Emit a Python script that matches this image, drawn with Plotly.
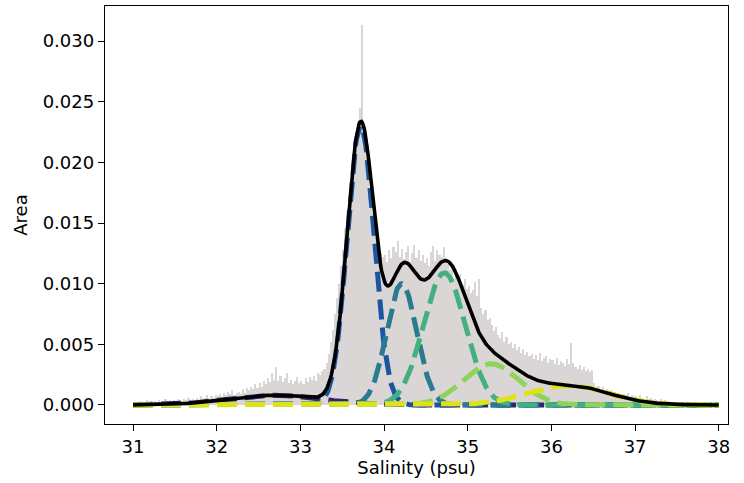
import numpy as np
import plotly.graph_objects as go

# histogram of salinity (area per bin), bins of 0.025 psu starting at 31.0
bin_start = 31.0
bin_width = 0.025
hist_e4 = [  # values x 1e-4
    0, 2, 1, 3, 0, 2, 4, 1, 3, 2,
    3, 1, 4, 2, 3, 5, 2, 4, 3, 4,
    3, 5, 4, 2, 5, 4, 6, 3, 5, 4,
    6, 4, 7, 5, 6, 8, 5, 7, 6, 8,
    7, 9, 6, 10, 8, 11, 9, 12, 8, 10,
    11, 9, 13, 10, 14, 12, 15, 13, 17, 14,
    18, 15, 20, 17, 22, 19, 26, 21, 31, 20,
    24, 19, 22, 26, 18, 21, 17, 20, 23, 18,
    20, 17, 22, 19, 23, 21, 24, 20, 26, 25,
    28, 30, 35, 42, 52, 62, 75, 88, 100, 115,
    128, 145, 160, 175, 190, 205, 218, 230, 245, 313,
    225, 210, 190, 172, 158, 145, 138, 130, 125, 122,
    124, 118, 128, 121, 130, 126, 135, 122, 129, 120,
    126, 131, 118, 125, 132, 121, 128, 119, 124, 117,
    121, 115, 126, 131, 119, 128, 124, 122, 130, 118,
    116, 111, 114, 105, 112, 102, 108, 99, 104, 96,
    98, 92, 95, 101, 90, 104, 80, 75, 78, 70,
    72, 66, 61, 64, 58, 55, 60, 52, 56, 50,
    52, 47, 50, 45, 48, 43, 46, 41, 44, 40,
    42, 38, 41, 37, 43, 36, 39, 40, 35, 38,
    37, 34, 39, 33, 36, 35, 32, 38, 34, 51,
    35, 31, 30, 33, 29, 31, 28, 30, 27, 29,
    18, 14, 16, 12, 15, 11, 13, 10, 12, 9,
    11, 8, 10, 7, 9, 8, 10, 6, 8, 7,
    7, 5, 8, 6, 4, 7, 5, 6, 4, 5,
    4, 3, 5, 2, 4, 3, 1, 2, 0, 0,
    0, 0, 0, 0, 0, 0, 0, 0, 0, 0,
    0, 0, 0, 0, 0, 0, 0, 0, 0, 0,
]

# gaussian components of the fit
means = [32.70, 33.72, 34.21, 34.72, 35.28, 36.20]
sigmas = [0.55, 0.16, 0.18, 0.25, 0.33, 0.48]
amps = [0.0008, 0.0230, 0.0100, 0.0109, 0.0034, 0.0016]
colors = ["#33236d", "#1a55a0", "#2a7b8e", "#45b07f", "#8fd35a", "#dde318"]

hist = np.array(hist_e4) * 1e-4
centers = bin_start + bin_width * (np.arange(len(hist)) + 0.5)

xs = np.linspace(31, 38, 701)
comps = [a * np.exp(-(xs - m) ** 2 / (2 * s ** 2)) for m, s, a in zip(means, sigmas, amps)]
total = np.sum(comps, axis=0)

fig = go.Figure()
fig.add_trace(go.Bar(x=centers, y=hist, width=bin_width, marker=dict(color="#dad6d6", line=dict(width=0))))

for c, col in zip(comps, colors):
    fig.add_trace(go.Scatter(x=xs, y=c, mode="lines", line=dict(color=col, width=5, dash="20px,8px")))

fig.add_trace(go.Scatter(x=xs, y=total, mode="lines", line=dict(color="black", width=3.6)))

font = dict(family="DejaVu Sans", size=18, color="black")
axis = dict(showline=True, linecolor="black", linewidth=1.4, mirror=True, ticks="outside",
            ticklen=6, tickwidth=1.4, tickcolor="black", showgrid=False, zeroline=False,
            tickfont=font)

fig.update_layout(
    width=744, height=483,
    margin=dict(l=105, r=16, t=6, b=59),
    plot_bgcolor="white", paper_bgcolor="white",
    showlegend=False, bargap=0,
    xaxis=dict(axis, range=[30.665, 38.11], tickvals=[31, 32, 33, 34, 35, 36, 37, 38],
               title=dict(text="Salinity (psu)", font=font, standoff=5)),
    yaxis=dict(axis, range=[-0.00157, 0.0329], tickvals=[0, 0.005, 0.01, 0.015, 0.02, 0.025, 0.03],
               tickformat=".3f", title=dict(text="Area", font=font, standoff=10)),
)

fig.write_html("out.html", config={"displayModeBar": False},
               post_script="document.body.style.margin='0';")
